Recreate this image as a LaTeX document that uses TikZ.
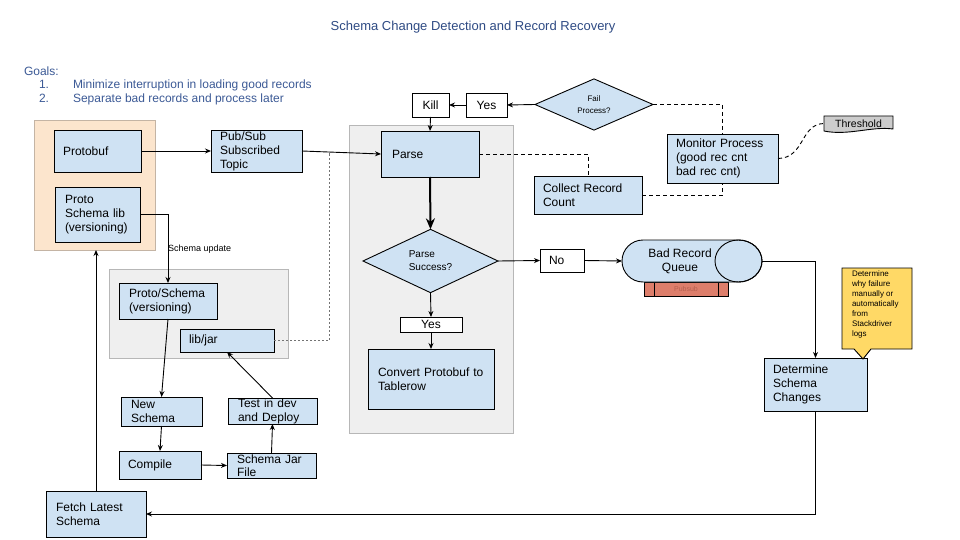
\documentclass[tikz,border=0pt]{standalone}
\usepackage{fontspec}
\setmainfont{Liberation Sans}
\usetikzlibrary{shapes.geometric,arrows.meta}
\definecolor{boxblue}{HTML}{CFE2F3}
\definecolor{orangefill}{HTML}{FCE5CD}
\definecolor{orangeborder}{HTML}{C4B4A4}
\definecolor{grayfill}{HTML}{EFEFEF}
\definecolor{contborder}{HTML}{B7B7B7}
\definecolor{calloutyellow}{HTML}{FFD966}
\definecolor{pubred}{HTML}{DD7E6B}
\definecolor{pubtext}{HTML}{B5604F}
\definecolor{thrgray}{HTML}{CCCCCC}
\definecolor{titleblue}{HTML}{2F4B84}
\definecolor{goalblue}{HTML}{3C5A96}
\begin{document}
\begin{tikzpicture}[x=1pt,y=-1pt,
  every node/.style={inner sep=0pt, outer sep=0pt},
  bx/.style={draw, fill=boxblue, line width=0.9pt, anchor=north west, align=left, font=\fontsize{12}{14}\selectfont},
  wbx/.style={draw, fill=white, line width=0.9pt, anchor=north west, align=center, font=\fontsize{12}{14}\selectfont},
  cont/.style={draw=contborder, line width=0.9pt, anchor=north west},
  dia/.style={diamond, draw, fill=boxblue, line width=0.9pt},
  arr/.style={-{Stealth[length=6pt,width=5pt]}, line width=0.9pt},
  dsh/.style={dash pattern=on 4pt off 3pt, line width=0.9pt},
  dtt/.style={dash pattern=on 2pt off 2pt, line width=0.9pt, draw=black!55},
  goal/.style={anchor=base west, text=goalblue, font=\fontsize{12}{14}\selectfont},
]
\useasboundingbox (0,0) rectangle (960,540);
\fill[white] (0,0) rectangle (960,540);

% containers
\node[cont, fill=orangefill, draw=orangeborder, minimum width=121pt, minimum height=130pt] (orangebox) at (34,120) {};
\node[cont, fill=grayfill, minimum width=164pt, minimum height=308pt] (midbox) at (349,125) {};
\node[cont, fill=grayfill, minimum width=179pt, minimum height=89pt] (lowbox) at (109,269) {};

% title and goals
\node[font=\fontsize{13}{15}\selectfont, text=titleblue] (title) at (473,27) {Schema Change Detection and Record Recovery};
\node[goal] (goals) at (24,75.3) {Goals:};
\node[goal] (n1) at (39,88.8) {1.};
\node[goal] (g1) at (73,88.8) {Minimize interruption in loading good records};
\node[goal] (n2) at (39,102.5) {2.};
\node[goal] (g2) at (73,102.5) {Separate bad records and process later};

% left boxes
\node[bx, minimum width=87pt, minimum height=42pt, text width=69pt, inner xsep=9pt] (protobuf) at (54,130) {Protobuf};
\node[bx, minimum width=85pt, minimum height=55pt, text width=65pt, inner xsep=10pt] (protolib) at (55,187) {Proto\\Schema lib\\(versioning)};
\node[bx, minimum width=91pt, minimum height=42pt, text width=73pt, inner xsep=9pt] (pubsub) at (211,130) {Pub/Sub\\Subscribed\\Topic};
\node[bx, minimum width=98pt, minimum height=36pt, text width=78pt, inner xsep=10pt] (protoschema) at (119,283) {Proto/Schema\\(versioning)};
\node[bx, minimum width=94pt, minimum height=23pt, text width=76pt, inner xsep=9pt] (libjar) at (180,329) {lib/jar};
\node[bx, minimum width=81pt, minimum height=29pt, text width=61pt, inner xsep=10pt] (newschema) at (121,397) {New\\Schema};
\node[bx, minimum width=89pt, minimum height=26pt, text width=69pt, inner xsep=10pt] (testdev) at (228,398) {Test in dev\\and Deploy};
\node[bx, minimum width=82pt, minimum height=28pt, text width=64pt, inner xsep=9pt] (compile) at (119,451) {Compile};
\node[bx, minimum width=89pt, minimum height=25pt, text width=69pt, inner xsep=10pt, font=\fontsize{12}{13}\selectfont] (schemajar) at (227,453) {Schema Jar\\File};
\node[bx, minimum width=100pt, minimum height=46pt, text width=80pt, inner xsep=10pt] (fetch) at (46,491) {Fetch Latest\\Schema};

% middle
\node[bx, minimum width=98pt, minimum height=46pt, text width=76pt, inner xsep=11pt] (parse) at (381,131) {Parse};
\node[wbx, minimum width=37pt, minimum height=24pt] (kill) at (412,93) {Kill};
\node[wbx, minimum width=41pt, minimum height=24pt] (yes1) at (466,93) {Yes};
\node[dia, minimum width=118pt, minimum height=49pt, align=center, font=\fontsize{8}{12}\selectfont] (fail) at (594,104.5) {Fail\\Process?};
\node[dia, minimum width=135pt, minimum height=62pt, align=left, font=\fontsize{10}{13}\selectfont] (psucc) at (430.5,261) {Parse\\Success?};
\node[wbx, minimum width=44pt, minimum height=23pt, text width=26pt, inner xsep=9pt, align=left] (no) at (540,249) {No};
\node[wbx, minimum width=62pt, minimum height=15pt] (yes2) at (400,317) {Yes};
\node[bx, minimum width=126pt, minimum height=60pt, text width=106pt, inner xsep=10pt] (convert) at (368,349) {\mbox{Convert Protobuf to}\\Tablerow};

% right
\node[bx, minimum width=108pt, minimum height=38pt, text width=90pt, inner xsep=9pt] (collect) at (534,176) {Collect Record\\Count};
\node[bx, minimum width=111pt, minimum height=49pt, text width=93pt, inner xsep=9pt] (monitor) at (667,134) {Monitor Process\\(good rec cnt\\bad rec cnt)};
\draw[fill=thrgray, line width=0.9pt] (824,116) -- (893,116) -- (893,129) .. controls (872,126) and (848,136) .. (824,131) -- cycle;
\node[minimum width=69pt, minimum height=15pt, anchor=north west, font=\fontsize{10.5}{12}\selectfont] (thr) at (824,116) {Threshold};

% bad record queue
\node[draw, fill=pubred, line width=0.9pt, minimum width=84pt, minimum height=14pt, anchor=north west, font=\fontsize{7}{8}\selectfont, text=pubtext] (pbar) at (644,282) {Pubsub};
\draw[line width=0.9pt] ([xshift=10pt]pbar.north west) -- ([xshift=10pt]pbar.south west);
\draw[line width=0.9pt] ([xshift=-10pt]pbar.north east) -- ([xshift=-10pt]pbar.south east);
\draw[fill=boxblue, line width=0.9pt] (643,240) -- (738.5,240) arc[start angle=-90, end angle=90, x radius=23.5, y radius=21] -- (643,282) arc[start angle=90, end angle=270, x radius=21, y radius=21] -- cycle;
\draw[line width=0.9pt] (738.5,261) ellipse[x radius=23.5, y radius=21];
\node[minimum width=140pt, minimum height=42pt, anchor=north west, label={[align=center, font=\fontsize{12}{14}\selectfont, xshift=-12pt]center:Bad Record\\Queue}] (queue) at (622,240) {};

\node[bx, minimum width=103pt, minimum height=53pt, text width=85pt, inner xsep=9pt] (detschema) at (764,358) {Determine\\Schema\\Changes};
\draw[fill=calloutyellow, line width=0.9pt] (842,268) -- (912,268) -- (912,349) -- (871,349) -- (863,359) -- (854,349) -- (842,349) -- cycle;
\node[anchor=north west, align=left, font=\fontsize{8}{10}\selectfont] (note) at (852,270.5) {Determine\\why failure\\manually or\\automatically\\from\\Stackdriver\\logs};

% connectors
\draw[arr] (protobuf.east) -- (pubsub.west);
\draw[arr] (pubsub.east) -- (parse.west);
\coordinate (dj) at (329,153.3);
\draw[dtt] (libjar.east) -| (dj);
\draw[arr] (protolib.east) -| (protoschema.north);
\node[anchor=base west, font=\fontsize{9}{10}\selectfont] (supd) at (168,251) {Schema update};
\draw[arr] (protoschema.south) -- (newschema.north);
\draw[arr] (newschema.south) -- (compile.north);
\draw[arr] (compile.east) -- (schemajar.west);
\draw[arr] (schemajar.north) -- (testdev.south);
\draw[arr] (testdev.north) -- (libjar.south);
\draw[arr] (fetch.north) -- (fetch.north |- orangebox.south);
\draw[arr] (detschema.south) |- (fetch.east);
\draw[arr] (queue.east) -| (detschema.north);
\draw[arr] (no.east) -- (queue.west);
\draw[arr] (psucc.east) -- (no.west);
\draw[arr] (psucc.south) -- (yes2.north);
\draw[arr] (yes2.south) -- (convert.north);
\draw[-{Stealth[length=11pt,width=9pt]}, line width=2pt] (parse.south) -- (psucc.north);
\draw[arr] (fail.west) -- (yes1.east);
\draw[arr] (yes1.west) -- (kill.east);
\draw[arr] (kill.south) -- (parse.north);
\draw[dsh] (parse.east) -| (collect.north);
\draw[dsh] (collect.east) -| (monitor.south);
\draw[dsh] (fail.east) -| (monitor.north);
\draw[dsh] (monitor.east) .. controls (805,158) and (800,124) .. (thr.west);
\end{tikzpicture}
\end{document}
